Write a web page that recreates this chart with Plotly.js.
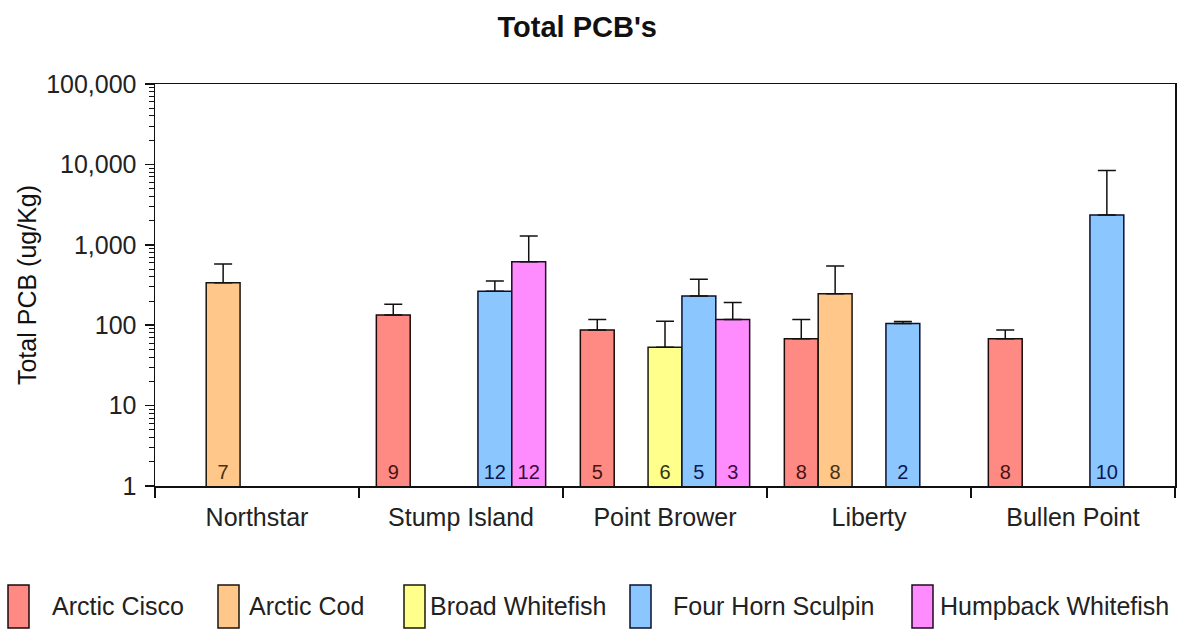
<!DOCTYPE html>
<html>
<head>
<meta charset="utf-8">
<script src="https://cdn.plot.ly/plotly-3.0.1.min.js"></script>
<style>html,body{margin:0;padding:0;background:#fff;}#chart{width:1178px;height:629px;}</style>
</head>
<body>
<div id="chart"></div>
<script>
// ---- data ----
const sites = ["Northstar", "Stump Island", "Point Brower", "Liberty", "Bullen Point"];
const seriesNames = ["Arctic Cisco", "Arctic Cod", "Broad Whitefish", "Four Horn Sculpin", "Humpback Whitefish"];

const arcticCiscoMean   = [null, 134, 87, 68, 68];
const arcticCiscoErr    = [null, 48, 31, 50, 19];
const arcticCiscoN      = [null, 9, 5, 8, 8];

const arcticCodMean     = [337, null, null, 246, null];
const arcticCodErr      = [240, null, null, 299, null];
const arcticCodN        = [7, null, null, 8, null];

const broadWhitefishMean = [null, null, 53, null, null];
const broadWhitefishErr  = [null, null, 59, null, null];
const broadWhitefishN    = [null, null, 6, null, null];

const sculpinMean       = [null, 264, 230, 105, 2350];
const sculpinErr        = [null, 90, 142, 6, 6020];
const sculpinN          = [null, 12, 5, 2, 10];

const humpbackMean      = [null, 616, 118, null, null];
const humpbackErr       = [null, 672, 74, null, null];
const humpbackN         = [null, 12, 3, null, null];

const yTickVals  = [1, 10, 100, 1000, 10000, 100000];
const yTickText  = ["1", "10", "100", "1,000", "10,000", "100,000"];

// ---- styles ----
const fills   = ["#FF8A84", "#FFC78A", "#FFFF8C", "#8CC6FF", "#FF8CFF"];
const borders = ["#1a0a0a", "#1a140a", "#1a1a0a", "#0a1030", "#200a20"];
const textCols = ["#4a1410", "#4a3010", "#33330c", "#0a1850", "#400a40"];

const means = [arcticCiscoMean, arcticCodMean, broadWhitefishMean, sculpinMean, humpbackMean];
const errs  = [arcticCiscoErr, arcticCodErr, broadWhitefishErr, sculpinErr, humpbackErr];
const ns    = [arcticCiscoN, arcticCodN, broadWhitefishN, sculpinN, humpbackN];

const FONT = "Liberation Sans, Arial, sans-serif";

const traces = seriesNames.map((name, i) => ({
  type: "bar",
  name: name,
  x: sites,
  y: means[i],
  text: ns[i].map(v => v === null ? "" : String(v)),
  textposition: "inside",
  insidetextanchor: "start",
  textangle: 0,
  constraintext: "none",
  insidetextfont: {family: "Liberation Sans Narrow, Arial Narrow, " + FONT, size: 20, color: textCols[i]},
  marker: {color: fills[i], line: {color: borders[i], width: 1.5}},
  error_y: {type: "data", symmetric: false, array: errs[i], arrayminus: errs[i].map(v => 0), color: "#111", thickness: 1.5, width: 9},
  showlegend: false,
  hoverinfo: "x+y+name"
}));

// legend drawn as shapes + annotations below the plot
const W = 1178, H = 629;
const L = 155, R = 3, T = 84, B = 143;
const pw = W - L - R, ph = H - T - B;
const px2x = p => (p - L) / pw;
const py2y = p => (H - B - p) / ph;

const legendBoxX = [8, 218, 404, 630, 912];
const legendTextX = [50, 247, 428, 671, 938];
const shapes = [];
const annotations = [];
seriesNames.forEach((name, i) => {
  shapes.push({
    type: "rect", xref: "paper", yref: "paper",
    x0: px2x(legendBoxX[i]), x1: px2x(legendBoxX[i] + 21),
    y0: py2y(585), y1: py2y(628),
    fillcolor: fills[i], line: {color: borders[i], width: 1.5}
  });
  annotations.push({
    xref: "paper", yref: "paper",
    x: px2x(legendTextX[i]), y: py2y(606),
    xanchor: "left", yanchor: "middle",
    text: name, showarrow: false,
    font: {family: FONT, size: 25, color: "#222"}
  });
});

const layout = {
  width: W, height: H,
  margin: {l: L, r: R, t: T, b: B, pad: 0},
  paper_bgcolor: "#fff", plot_bgcolor: "#fff",
  title: {text: "<b>Total PCB's</b>", x: 0.49, xanchor: "center", y: 0.957, yanchor: "middle",
          font: {family: FONT, size: 29, color: "#111"}},
  barmode: "group",
  bargap: 0.17,
  bargroupgap: 0,
  xaxis: {
    type: "category",
    showline: true, linecolor: "#111", linewidth: 1.5, mirror: true,
    ticks: "outside", tickson: "boundaries", ticklen: 10, tickwidth: 1.5, tickcolor: "#111",
    showgrid: false, zeroline: false,
    tickfont: {family: FONT, size: 25, color: "#222"},
    ticklabelstandoff: 8
  },
  yaxis: {
    type: "log", range: [0, 5],
    showline: true, linecolor: "#111", linewidth: 1.5, mirror: true,
    ticks: "outside", ticklen: 9, tickwidth: 1.5, tickcolor: "#111",
    tickmode: "array", tickvals: yTickVals, ticktext: yTickText,
    minor: {ticks: "outside", ticklen: 5, tickwidth: 1, tickcolor: "#111", dtick: "D1", showgrid: false},
    showgrid: false, zeroline: false,
    tickfont: {family: FONT, size: 25, color: "#222"},
    ticklabelstandoff: 3,
    title: {text: "Total PCB (ug/Kg)", font: {family: FONT, size: 25, color: "#111"}, standoff: 2}
  },
  shapes: shapes,
  annotations: annotations,
  showlegend: false
};

Plotly.newPlot("chart", traces, layout, {displayModeBar: false, staticPlot: true});
</script>
</body>
</html>
